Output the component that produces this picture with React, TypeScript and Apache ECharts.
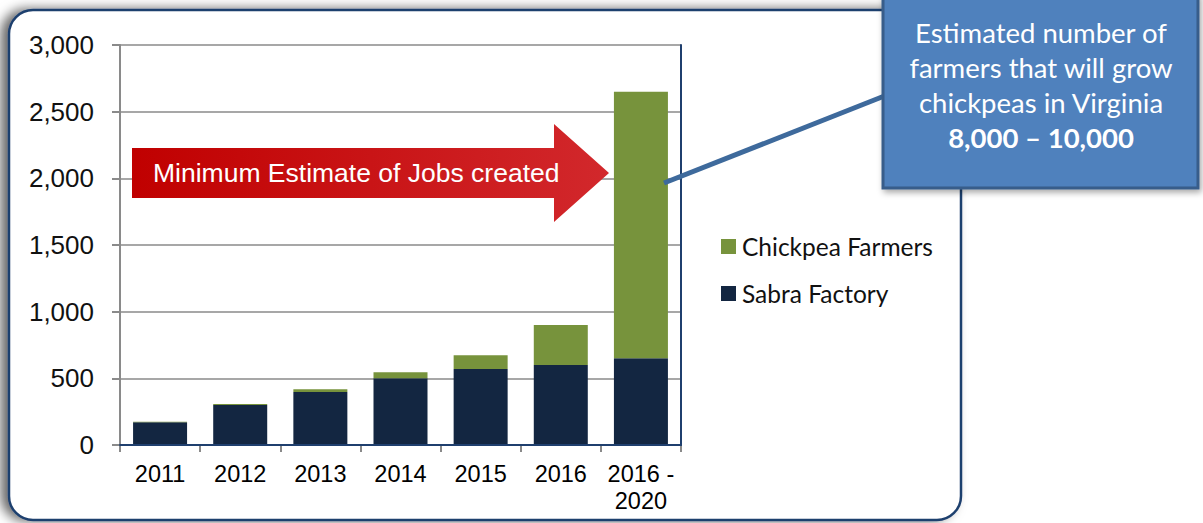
import React, { useEffect, useRef } from "react";
import * as echarts from "echarts";

const categories = ["2011", "2012", "2013", "2014", "2015", "2016", "2016 -\n2020"];
const sabraFactory = [170, 300, 397, 500, 570, 600, 650];
const chickpeaFarmers = [5, 8, 22, 45, 103, 300, 2000];
const yTicks = { min: 0, max: 3000, interval: 500 };
const arrowText = "Minimum Estimate of Jobs created";
const calloutLines = ["Estimated number of", "farmers that will grow", "chickpeas in Virginia"];
const calloutRange = "8,000 – 10,000";

export default function App() {
  const ref = useRef<HTMLDivElement>(null);
  useEffect(() => {
    if (!ref.current) return;
    const chart = echarts.init(ref.current, null, { renderer: "svg" });
    const option: any = {
      animation: false,
      backgroundColor: "#ffffff",
      grid: { left: 120, top: 45, right: 522, bottom: 78, containLabel: false },
      legend: {
        orient: "vertical",
        left: 716,
        top: 229,
        itemWidth: 15,
        itemHeight: 15,
        itemGap: 22,
        icon: "rect",
        data: ["Chickpea Farmers", "Sabra Factory"],
        textStyle: { fontFamily: "Lato", fontSize: 24.5, color: "#111", padding: [0, 0, 0, 1] },
      },
      xAxis: [
        {
          type: "category",
          data: categories,
          axisLine: { lineStyle: { color: "#8a8a8a", width: 2 } },
          axisTick: { show: true, alignWithLabel: false, length: 7, lineStyle: { color: "#8a8a8a", width: 2 } },
          axisLabel: {
            interval: 0,
            fontFamily: "Liberation Sans",
            fontSize: 23.5,
            color: "#000",
            margin: 15,
            lineHeight: 27,
          },
        },
        {
          type: "category",
          position: "top",
          data: categories,
          z: 5,
          axisLine: { lineStyle: { color: "#1f3f6e", width: 2 } },
          axisTick: { show: false },
          axisLabel: { show: false },
        },
      ],
      yAxis: [
        {
          type: "value",
          min: yTicks.min,
          max: yTicks.max,
          interval: yTicks.interval,
          axisLine: { show: true, lineStyle: { color: "#8a8a8a", width: 2 } },
          axisTick: { show: true, length: 8, lineStyle: { color: "#8a8a8a", width: 2 } },
          splitLine: { lineStyle: { color: "#8a8a8a", width: 1.5 } },
          axisLabel: {
            fontFamily: "Liberation Sans",
            fontSize: 26,
            color: "#111",
            margin: 26,
            formatter: (v: number) => v.toLocaleString("en-US"),
          },
        },
        {
          type: "value",
          position: "right",
          min: yTicks.min,
          max: yTicks.max,
          interval: yTicks.interval,
          z: 5,
          axisLine: { show: true, lineStyle: { color: "#1f3f6e", width: 2 } },
          axisTick: { show: false },
          splitLine: { show: false },
          axisLabel: { show: false },
        },
      ],
      series: [
        {
          name: "Sabra Factory",
          type: "bar",
          stack: "jobs",
          data: sabraFactory,
          barWidth: 54,
          itemStyle: { color: "#132641" },
        },
        {
          name: "Chickpea Farmers",
          type: "bar",
          stack: "jobs",
          data: chickpeaFarmers,
          barWidth: 54,
          itemStyle: { color: "#77933c" },
        },
      ],
      graphic: [
        {
          type: "rect",
          z: -10,
          silent: true,
          shape: { x: 9, y: 10, width: 952, height: 510, r: 24 },
          style: {
            fill: "#ffffff",
            stroke: "#1f3f6e",
            lineWidth: 2.5,
            shadowBlur: 12,
            shadowOffsetX: -7,
            shadowOffsetY: 0,
            shadowColor: "rgba(0,0,0,0.6)",
          },
        },
        {
          type: "polygon",
          z: 50,
          shape: {
            points: [
              [132, 148],
              [554, 148],
              [554, 124],
              [609, 173],
              [554, 222],
              [554, 198],
              [132, 198],
            ],
          },
          style: {
            fill: new echarts.graphic.LinearGradient(0, 0, 1, 0, [
              { offset: 0, color: "#c00000" },
              { offset: 1, color: "#d2282c" },
            ]),
          },
        },
        {
          type: "text",
          z: 51,
          x: 153,
          y: 173,
          style: {
            text: arrowText,
            fill: "#ffffff",
            fontFamily: "Liberation Sans",
            fontSize: 26.5,
            verticalAlign: "middle",
            align: "left",
          },
        },
        {
          type: "line",
          z: 60,
          shape: { x1: 664, y1: 183, x2: 892, y2: 93 },
          style: { stroke: "#3e6a9c", lineWidth: 5 },
        },
        {
          type: "rect",
          z: 70,
          shape: { x: 883, y: -6, width: 315, height: 194 },
          style: {
            fill: "#4f81bd",
            stroke: "#385d8a",
            lineWidth: 3,
            shadowBlur: 6,
            shadowOffsetX: 2,
            shadowOffsetY: 3,
            shadowColor: "rgba(0,0,0,0.35)",
          },
        },
        {
          type: "text",
          z: 71,
          x: 1041,
          y: 85,
          style: {
            text: calloutLines.join("\n") + "\n{b|" + calloutRange + "}",
            fill: "#ffffff",
            fontFamily: "Lato",
            fontSize: 27.5,
            lineHeight: 35,
            align: "center",
            verticalAlign: "middle",
            rich: {
              b: { fontWeight: "bold", fontFamily: "Lato", fontSize: 27.5, fill: "#ffffff", lineHeight: 35 },
            },
          },
        },
      ],
    };
    chart.setOption(option);
    return () => chart.dispose();
  }, []);
  return <div ref={ref} style={{ position: "fixed", left: 0, top: 0, width: 1203, height: 523 }} />;
}
